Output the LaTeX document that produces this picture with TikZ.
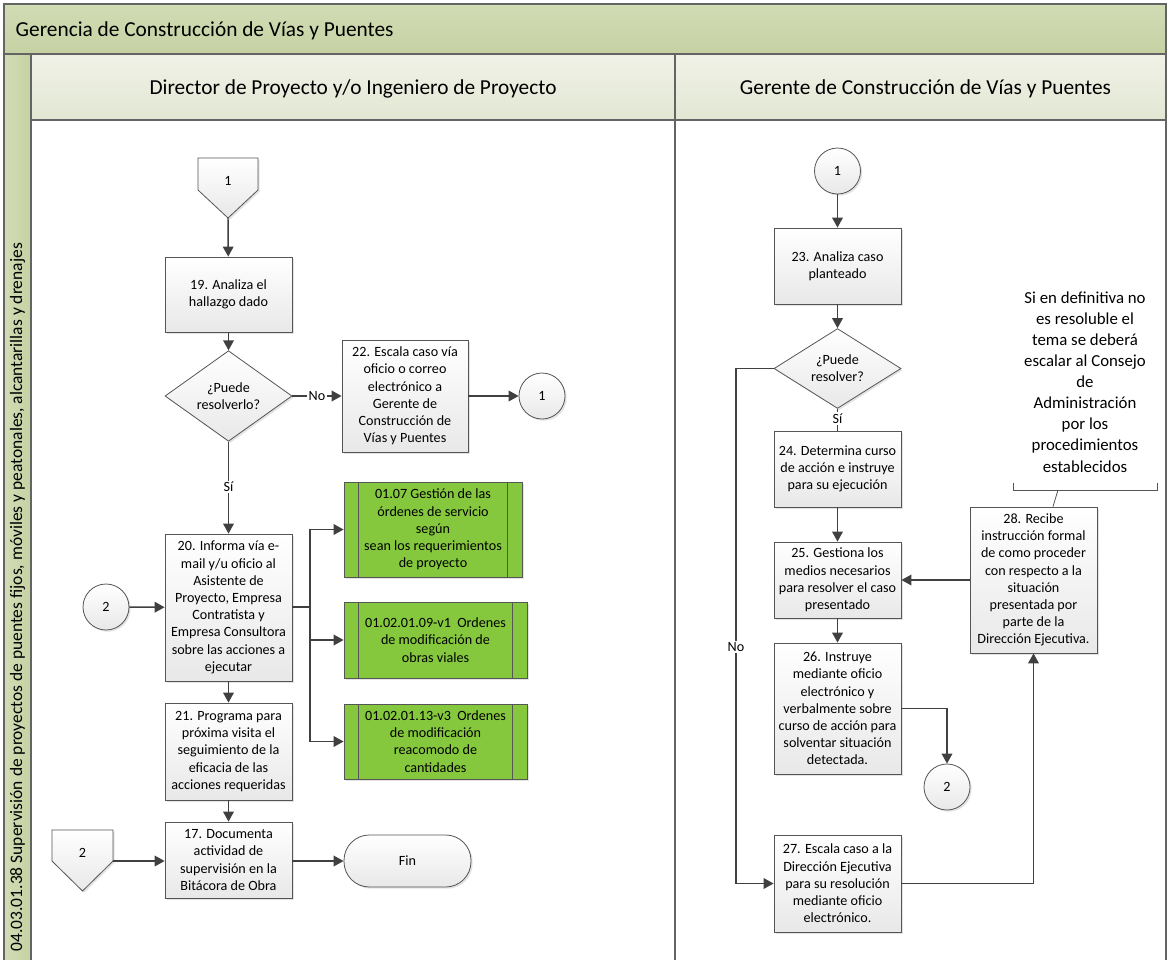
\documentclass[tikz,border=0pt]{standalone}
\usepackage{fontspec}
\setmainfont{Carlito}
\usetikzlibrary{arrows.meta,shapes.geometric,shadows,calc}
\definecolor{lineC}{RGB}{64,64,64}
\definecolor{edgeC}{RGB}{85,85,85}
\definecolor{bandTop}{RGB}{210,220,181}
\definecolor{bandBot}{RGB}{198,209,163}
\definecolor{laneTop}{RGB}{240,242,231}
\definecolor{laneBot}{RGB}{226,231,211}
\definecolor{greenC}{RGB}{133,200,62}
\definecolor{frameC}{RGB}{100,100,100}
\begin{document}
\begin{tikzpicture}[x=0.75pt,y=-0.75pt,
  font=\fontsize{10.6}{12.9}\selectfont,
  shad/.style={drop shadow={shadow xshift=1.3pt,shadow yshift=-1.3pt,fill=black!22}},
  proc/.style={draw=edgeC, line width=0.6pt, top color=white, bottom color=black!9, align=center, inner sep=1pt, minimum width=127*0.75pt, shad},
  sub/.style={draw=edgeC, line width=0.6pt, fill=greenC, align=center, inner sep=1pt, shad},
  dec/.style={diamond, draw=edgeC, line width=0.6pt, top color=white, bottom color=black!9, align=center, inner sep=0pt, minimum width=127*0.75pt, minimum height=75*0.75pt, shad},
  conn/.style={circle, draw=edgeC, line width=0.6pt, top color=white, bottom color=black!9, minimum size=46*0.75pt, inner sep=0pt, shad},
  term/.style={draw=edgeC, line width=0.6pt, top color=white, bottom color=black!9, rounded corners=19pt, minimum width=127*0.75pt, minimum height=52*0.75pt, shad},
  offshape/.style={draw=edgeC, line width=0.6pt, top color=white, bottom color=black!9, shad},
  arr/.style={draw=lineC, line width=1.1pt, -{Triangle[width=8pt,length=7.5pt]}},
  ln/.style={draw=lineC, line width=1.1pt},
  lbl/.style={fill=white, inner sep=1pt},
  hdr/.style={font=\fontsize{16}{19}\selectfont},
  annot/.style={align=center, font=\fontsize{12.6}{15.8}\selectfont}
]
\useasboundingbox (0,0) rectangle (1167,960);
% ---------- pool and lanes ----------
\shade[top color=bandTop, bottom color=bandBot] (4,4) rectangle (1166,54);
\shade[left color=bandTop, right color=bandBot] (4,54) rectangle (31,962);
\shade[top color=laneTop, bottom color=laneBot] (31,54) rectangle (1166,120);
\draw[frameC, line width=0.8pt] (4,962) -- (4,4) -- (1166,4) -- (1166,962);
\draw[frameC, line width=0.8pt] (4,54) -- (1166,54);
\draw[frameC, line width=0.8pt] (31,54) -- (31,962);
\draw[frameC, line width=0.8pt] (31,120) -- (1166,120);
\draw[frameC, line width=0.8pt] (675,54) -- (675,962);
\node[hdr, anchor=base west] (pool) at (11,36.5) {Gerencia de Construcción de Vías y Puentes};
\node[hdr, anchor=base] (laneA) at (353,94) {Director de Proyecto y/o Ingeniero de Proyecto};
\node[hdr, anchor=base] (laneB) at (925.5,94) {Gerente de Construcción de Vías y Puentes};
\node[rotate=90, anchor=base west, font=\fontsize{13.1}{16}\selectfont] (phase) at (22,956) {04.03.01.38 Supervisión de proyectos de puentes fijos, móviles y peatonales, alcantarillas y drenajes};

% ---------- left lane ----------
\path[offshape] (198,158) -- (258,158) -- (258,190) -- (228,218) -- (198,190) -- cycle;
\node (op1) at (228,181) {1};
\coordinate (op1tip) at (228,218);
\node[proc, minimum height=75*0.75pt] (b19) at (228.5,294.5) {19. Analiza el\\hallazgo dado};
\node[dec] (d1) at (228.5,396) {¿Puede\\resolverlo?};
\node[proc, minimum width=126*0.75pt, minimum height=112*0.75pt] (b22) at (405,396) {22. Escala caso vía\\oficio o correo\\electrónico a\\Gerente de\\Construcción de\\Vías y Puentes};
\node[conn] (c1L) at (542,396) {1};
\node[proc, minimum height=147*0.75pt] (b20) at (228.5,607.5) {20. Informa vía e-\\mail y/u oficio al\\Asistente de\\Proyecto, Empresa\\Contratista y\\Empresa Consultora\\sobre las acciones a\\ejecutar};
\node[conn] (c2L) at (106,607) {2};
\node[proc, minimum height=97*0.75pt] (b21) at (228.5,751.5) {21. Programa para\\próxima visita el\\seguimiento de la\\eficacia de las\\acciones requeridas};
\node[proc, minimum height=76*0.75pt] (b17) at (228.5,860) {17. Documenta\\actividad de\\supervisión en la\\Bitácora de Obra};
\path[offshape] (52,830) -- (113,830) -- (113,861) -- (82.5,891) -- (52,861) -- cycle;
\node (op2) at (82.5,853) {2};
\coordinate (op2r) at (113,861);
\node[term] (fin) at (407.5,861) {Fin};

\node[sub, minimum width=178*0.75pt, minimum height=95*0.75pt] (g1) at (433,529.5) {01.07 Gestión de las\\órdenes de servicio\\según\\sean los requerimientos\\de proyecto};
\node[sub, minimum width=183*0.75pt, minimum height=76*0.75pt] (g2) at (435.5,640) {01.02.01.09-v1 \ Ordenes\\de modificación de\\obras viales};
\node[sub, minimum width=183*0.75pt, minimum height=75*0.75pt] (g3) at (435.5,741.5) {01.02.01.13-v3 \ Ordenes\\de modificación\\reacomodo de\\cantidades};
\foreach \g in {g1,g2,g3}{
  \draw[edgeC, line width=0.6pt] ($(\g.north west)+(15,0)$) -- ($(\g.south west)+(15,0)$);
  \draw[edgeC, line width=0.6pt] ($(\g.north east)+(-15,0)$) -- ($(\g.south east)+(-15,0)$);
}

\draw[arr] (op1tip) -- (b19);
\draw[arr] (b19) -- (d1);
\draw[arr] (d1) -- node[lbl] {No} (b22);
\draw[arr] (b22) -- (c1L);
\draw[arr] (d1) -- node[lbl, pos=0.49] {Sí} (b20);
\draw[arr] (c2L) -- (b20);
\draw[arr] (b20) -- (b21);
\draw[arr] (b21) -- (b17);
\draw[arr] (op2r) -- (b17.west |- op2r);
\draw[arr] (b17.east |- fin) -- (fin);
\coordinate (br) at (310,607);
\draw[ln] (b20.east |- br) -- (br);
\draw[arr] (br) |- (g1);
\draw[arr] (br) |- (g2);
\draw[arr] (br) |- (g3);

% ---------- right lane ----------
\node[conn] (c1R) at (837.5,171) {1};
\node[proc, minimum height=76*0.75pt] (b23) at (837.5,266) {23. Analiza caso\\planteado};
\node[dec] (d2) at (837.5,368.5) {¿Puede\\resolver?};
\node[proc, minimum height=76*0.75pt] (b24) at (837.5,469) {24. Determina curso\\de acción e instruye\\para su ejecución};
\node[proc, minimum height=76*0.75pt] (b25) at (837.5,580) {25. Gestiona los\\medios necesarios\\para resolver el caso\\presentado};
\node[proc, minimum height=131*0.75pt] (b26) at (837.5,708.5) {26. Instruye\\mediante oficio\\electrónico y\\verbalmente sobre\\curso de acción para\\solventar situación\\detectada.};
\node[conn] (c2R) at (947,787) {2};
\node[proc, minimum height=97*0.75pt] (b27) at (837.5,883.5) {27. Escala caso a la\\Dirección Ejecutiva\\para su resolución\\mediante oficio\\electrónico.};
\node[proc, minimum height=146*0.75pt] (b28) at (1033.5,580) {28. Recibe\\instrucción formal\\de como proceder\\con respecto a la\\situación\\presentada por\\parte de la\\Dirección Ejecutiva.};

\draw[arr] (c1R) -- (b23);
\draw[arr] (b23) -- (d2);
\draw[ln] (d2) -- node[lbl, pos=0.45] {Sí} (b24);
\draw[arr] (b24) -- (b25);
\draw[arr] (b25) -- (b26);
\coordinate (noc) at (736,368.5);
\draw[arr] (d2.west) -- (noc) |- node[lbl, pos=0.27] {No} (b27.west);
\draw[arr] (b26.east) -| (c2R.north);
\draw[arr] (b27.east) -| (b28.south);
\draw[arr] (b28.west) -- (b25.east);

% ---------- annotation ----------
\node[annot] (ann) at (1085,382) {Si en definitiva no\\es resoluble el\\tema se deberá\\escalar al Consejo\\de\\Administración\\por los\\procedimientos\\establecidos};
\draw[edgeC, line width=0.6pt] (1013,483) -- (1013,490) -- (1157,490) -- (1157,483);
\coordinate (brk) at (1058,490);
\draw[edgeC, line width=0.6pt] (brk) -- ($(b28.north)+(19.5,0)$);
\end{tikzpicture}
\end{document}
